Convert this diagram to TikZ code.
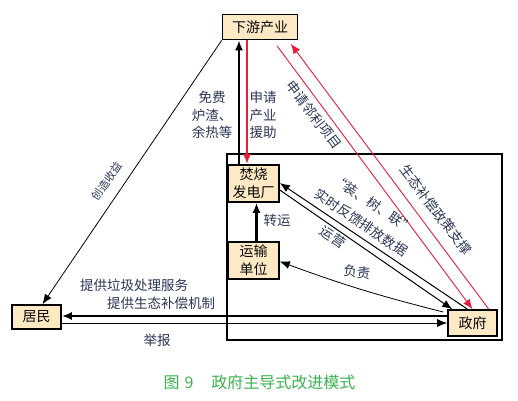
\documentclass[tikz,border=0pt]{standalone}
\usepackage{fontspec}
\newfontfamily\cjk{Noto Sans CJK SC}
\usetikzlibrary{arrows.meta}
\definecolor{boxfill}{RGB}{253,234,196}
\definecolor{navy}{RGB}{42,52,84}
\definecolor{arrred}{RGB}{230,30,58}
\definecolor{capgreen}{RGB}{58,178,78}
\tikzset{
	unit/.style={draw=black,line width=1.6pt,fill=boxfill,inner sep=1pt,align=center,
		font=\cjk\fontsize{14}{18}\selectfont,text=black!85!navy},
	lbl/.style={font=\cjk\fontsize{13.5}{17.5}\selectfont,text=navy,align=center,inner sep=0pt},
	small/.style={lbl,font=\cjk\fontsize{11}{13}\selectfont},
	big/.style={-{Latex[length=10pt,width=8pt]}},
}
\begin{document}
\begin{tikzpicture}[x=1pt,y=-1pt]
			\useasboundingbox (0,0) rectangle (518,400);
			% GOVERNMENT FRAME
			\draw[line width=1.3pt] (227,154) rectangle (502,340);

			% UNITS
			\node[unit,minimum width=75pt,minimum height=25pt] (xiayou) at (260,27) {下游产业};
			\node[unit,minimum width=51pt,minimum height=37pt] (fenshao) at (253.5,183.5) {焚烧\\发电厂};
			\node[unit,minimum width=51pt,minimum height=37pt] (yunshu) at (253.5,260.5) {运输\\单位};
			\node[unit,minimum width=49pt,minimum height=26pt] (zhengfu) at (472.5,323) {政府};
			\node[unit,minimum width=49pt,minimum height=24pt] (jumin) at (36.5,317) {居民};

			% THICK ARROWS
			\draw[big,line width=2.2pt] ([xshift=-14.5]fenshao.north) -- ([xshift=-14.5]fenshao.north |- xiayou.south);
			\draw[big,line width=2.2pt,arrred] ([xshift=-6.5]fenshao.north |- xiayou.south) -- ([xshift=-6.5]fenshao.north);
			\draw[big,line width=2.2pt] ([xshift=3]yunshu.north) -- ([xshift=3]fenshao.south);
			\draw[big,line width=2pt] ([yshift=7]zhengfu.west) -- ([yshift=7]zhengfu.west -| jumin.east);
			\draw[big,line width=0.8pt] ([yshift=-6]jumin.east) -- ([yshift=-6]jumin.east -| zhengfu.west);

			% THIN ARROWS
			\draw[big,line width=0.8pt] (xiayou.south west) -- ([xshift=6]jumin.north);
			\draw[big,line width=0.9pt,arrred] ([shift={(17,5.5)}]xiayou.south) -- (zhengfu.north);
			\draw[big,line width=0.9pt,arrred] ([xshift=-9]zhengfu.north east) -- ([shift={(-7.5,3.5)}]xiayou.south east);
			\draw[big,line width=1pt] ([xshift=-5]zhengfu.north) -- ([yshift=0.5]fenshao.east);
			\draw[big,line width=1pt] ([yshift=-6.5]fenshao.east) -- ([xshift=5]zhengfu.north west);
			\draw[big,line width=0.8pt] ([shift={(-4,-11)}]zhengfu.west) to[bend left=3] ([yshift=-1]yunshu.east);

			% LABELS
			\node[small,rotate=55] (chuangzao) at (107,181) {创造收益};
			\node[lbl] (mianfei) at (212,115) {免费\\炉渣、\\余热等};
			\node[lbl] (yuanzhu) at (263,115) {申请\\产业\\援助};
			\node[lbl,rotate=-53] (linli) at (314,115) {申请邻利项目};
			\node[lbl,rotate=-53] (zhicheng) at (436,210) {生态补偿政策支撑};
			\node[lbl,rotate=-34,font=\cjk\fontsize{13.5}{22}\selectfont] (shuju) at (367.5,213.5) {“装、树、联”\\实时反馈排放数据};
			\node[lbl,rotate=-34] (yunying) at (333,237) {运营};
			\node[lbl,rotate=-6] (fuze) at (357,272) {负责};
			\node[lbl] (zhuanyun) at (277,220) {转运};
			\node[lbl] (fuwu) at (134,285) {提供垃圾处理服务};
			\node[lbl] (jizhi) at (161,303) {提供生态补偿机制};
			\node[lbl] (jubao) at (157,340) {举报};

			% CAPTION
			\node[font=\cjk\fontsize{16}{18}\selectfont,text=capgreen] (caption) at (259.5,382) {图\hspace{5pt}9\hspace{18pt}政府主导式改进模式};
\end{tikzpicture}
\end{document}
